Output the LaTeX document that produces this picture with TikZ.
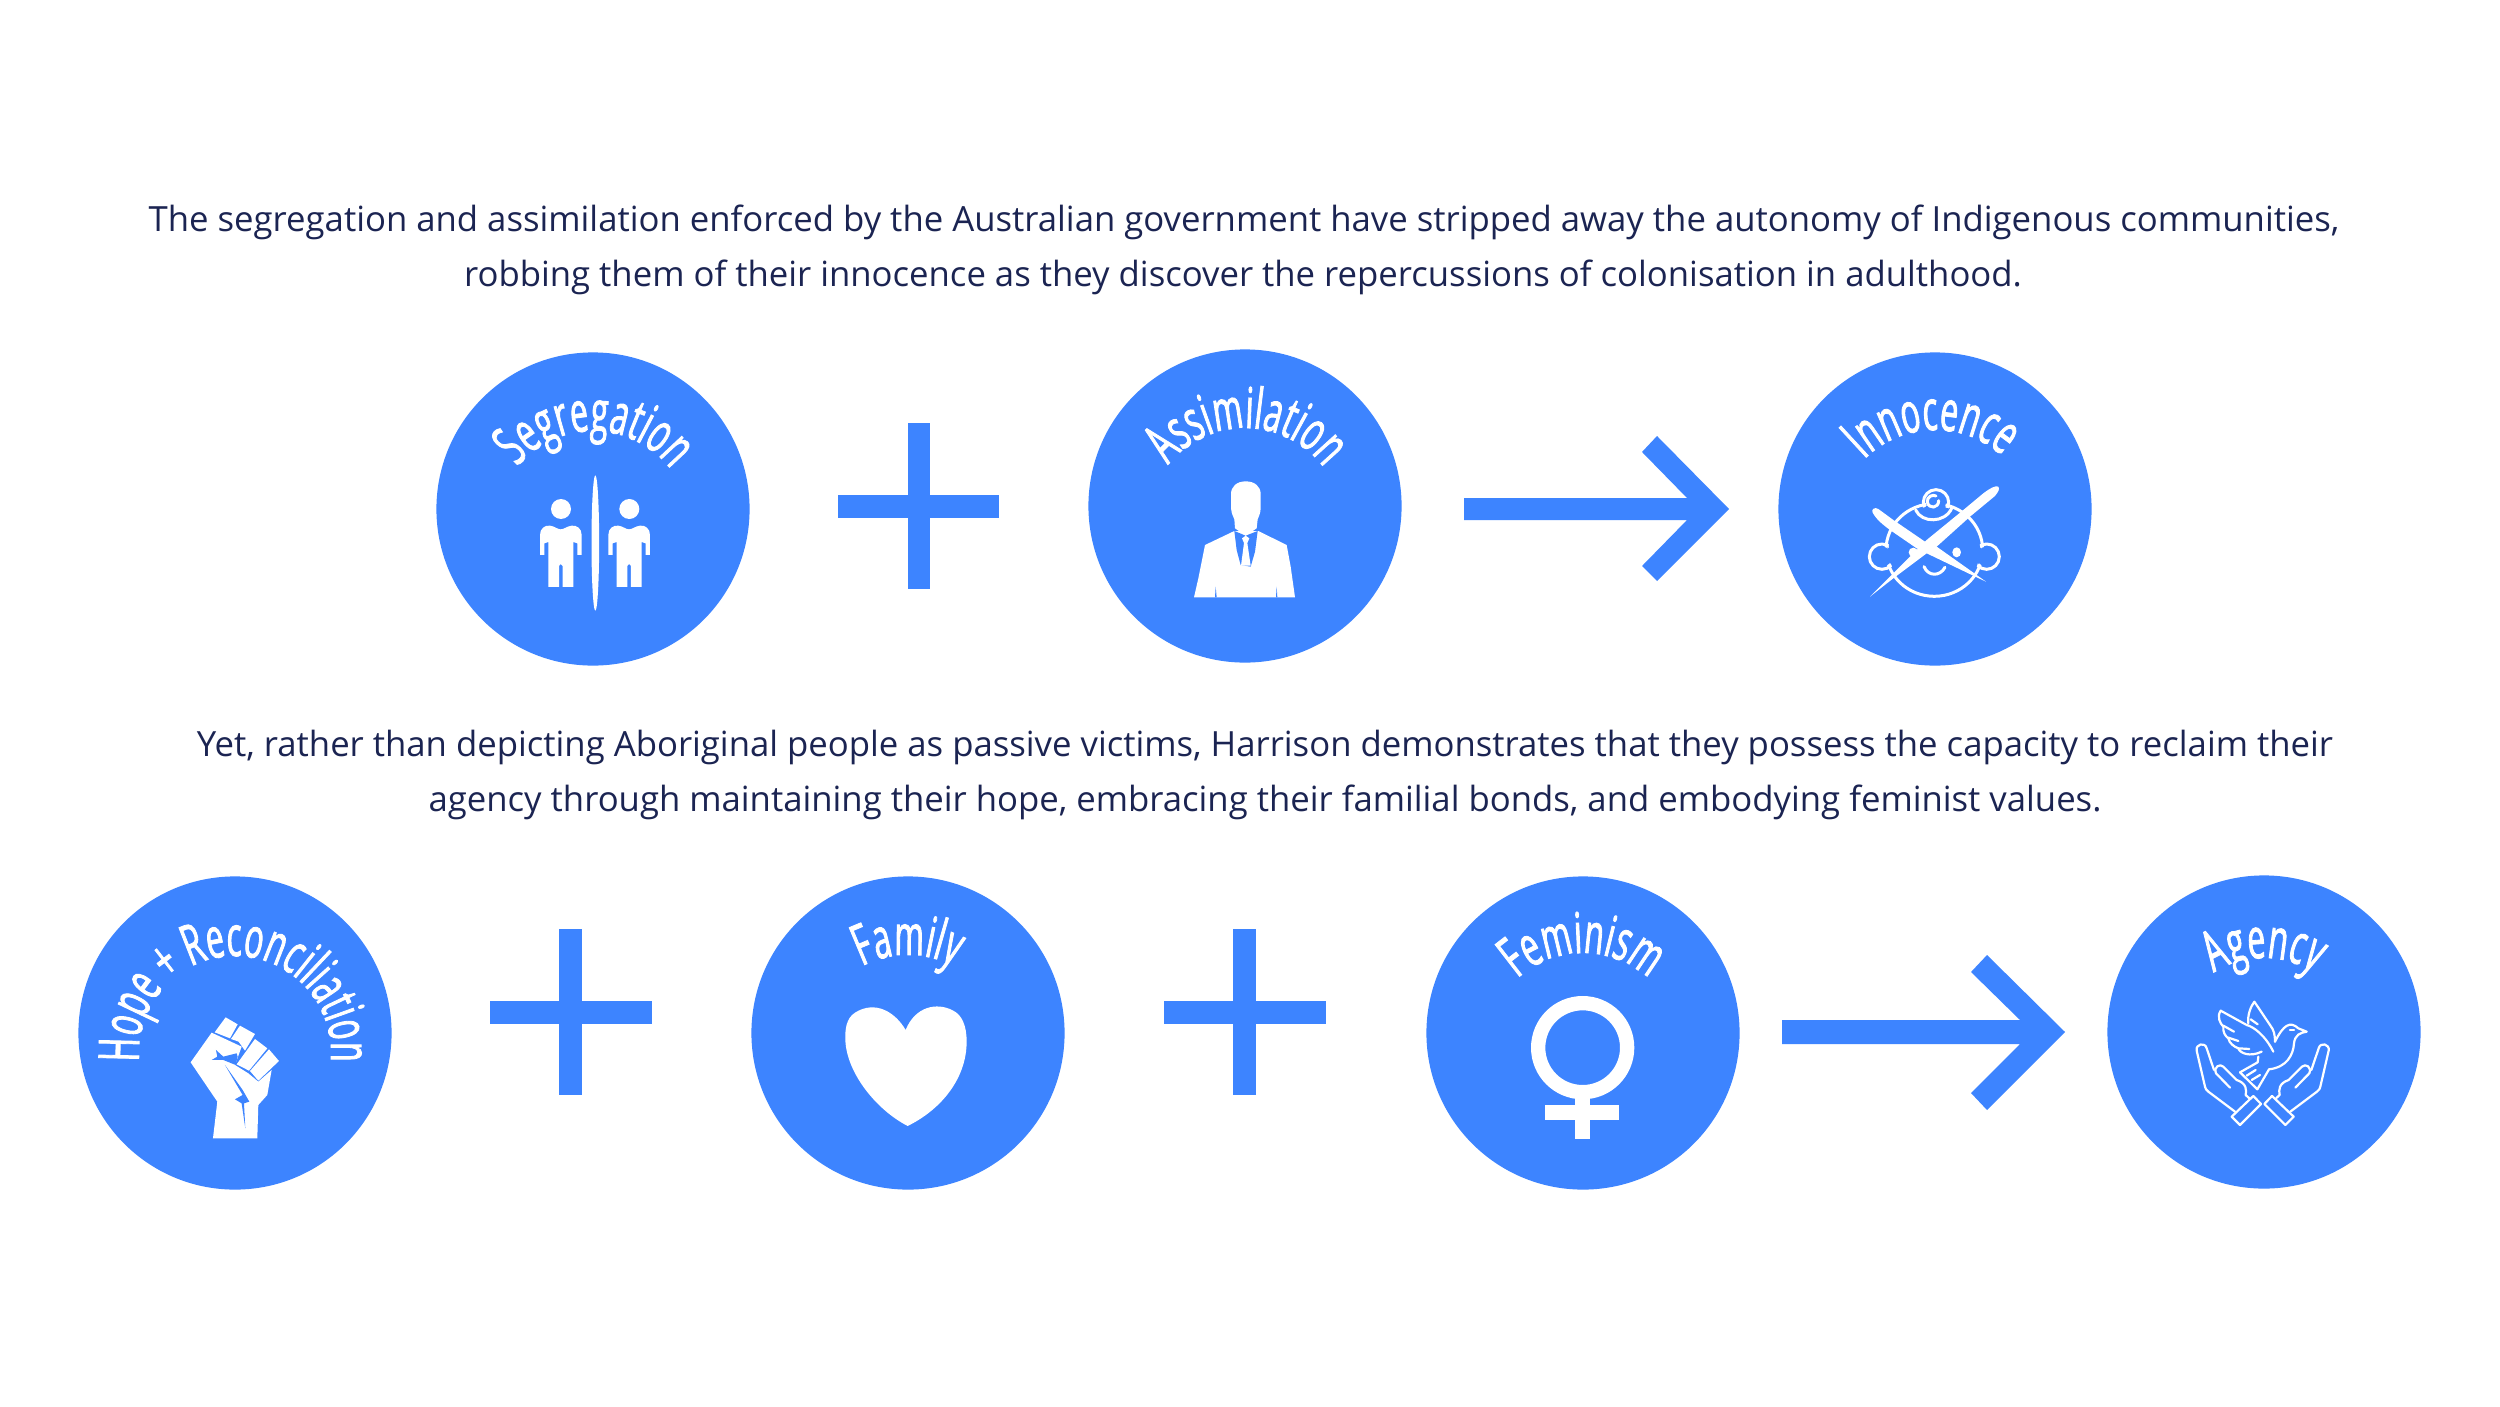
\documentclass[tikz,border=0pt]{standalone}
\usepackage{fontspec}
\usetikzlibrary{decorations.text}
\setmainfont{Open Sans}
\newfontfamily\capfont[FakeStretch=0.565, FakeBold=1.5]{Open Sans}
\newcommand{\labelfont}{\capfont\fontsize{16}{18}\selectfont}
\definecolor{discblue}{RGB}{61,132,255}
\definecolor{inknavy}{RGB}{27,36,82}
\tikzset{
  bodytext/.style={text=inknavy, anchor=base, inner sep=0pt, font=\fontsize{9.87}{12}\selectfont},
  disc/.style={circle, fill=discblue, draw=none, minimum size=3.13cm, inner sep=0pt, outer sep=0pt},
  arclabel/.style={decorate, decoration={text along path, text={|\labelfont|#1}, text color=white, text align=center}},
  icon/.style={white, line width=0.03cm, line join=round, line cap=round},
  thinicon/.style={white, line width=0.022cm, line join=round, line cap=round},
  iconzoom/.style={shift={#1}, scale=0.3333}
}

\begin{document}
\begin{tikzpicture}[x=0.01cm, y=-0.01cm]
    \useasboundingbox (0,0) rectangle (2500,1406);
    \fill[white] (0,0) rectangle (2500,1406);

    % the four lines of text
    \node[bodytext] (lineone) at (1244,231) {The segregation and assimilation enforced by the Australian government have stripped away the autonomy of Indigenous communities,};
    \node[bodytext] (linetwo) at (1243,286) {robbing them of their innocence as they discover the repercussions of colonisation in adulthood.};
    \node[bodytext] (linethree) at (1265,756) {Yet, rather than depicting Aboriginal people as passive victims, Harrison demonstrates that they possess the capacity to reclaim their};
    \node[bodytext] (linefour) at (1265,811) {agency through maintaining their hope, embracing their familial bonds, and embodying feminist values.};

    % the discs
    \node[disc] (segregation) at (593,509) {};
    \node[disc] (assimilation) at (1245,506) {};
    \node[disc] (innocence) at (1935,509) {};
    \node[disc] (hope) at (235,1033) {};
    \node[disc] (family) at (908,1033) {};
    \node[disc] (feminism) at (1583,1033) {};
    \node[disc] (agency) at (2264,1032) {};

    % curved titles
    \path[arclabel=Segregation] (593,529) ++(-199:98) arc[start angle=-199, end angle=21, radius=98];
    \path[arclabel=Assimilation] (1245,526) ++(-199:98) arc[start angle=-199, end angle=21, radius=98];
    \path[arclabel=Innocence] (1935,530) ++(-201:100) arc[start angle=-201, end angle=18, radius=100];
    \path[arclabel={Hope + Reconciliation}] (235,1052) ++(-200:96) arc[start angle=-200, end angle=20, radius=96];
    \path[arclabel=Family] (908,1055) ++(-200:100) arc[start angle=-200, end angle=20, radius=100];
    \path[arclabel=Feminism] (1583,1050) ++(-200:97) arc[start angle=-200, end angle=20, radius=97];
    \path[arclabel=Agency] (2264,1050) ++(-200:92) arc[start angle=-200, end angle=20, radius=92];

    % plus signs
    \fill[discblue] (838,495) rectangle (999,518);
    \fill[discblue] (908,423) rectangle (930,589);
    \fill[discblue] (490,1001) rectangle (652,1024);
    \fill[discblue] (559,929) rectangle (582,1095);
    \fill[discblue] (1164,1001) rectangle (1326,1024);
    \fill[discblue] (1233,929) rectangle (1256,1095);

    % arrows
    \fill[discblue] (1464,498) -- (1687,498) -- (1642,452) -- (1657,436) -- (1729,509) -- (1657,581) -- (1642,566) -- (1687,520) -- (1464,520) -- cycle;
    \fill[discblue] (1782,1020) -- (2020,1020) -- (1971,972) -- (1987,955) -- (2065,1032) -- (1987,1110) -- (1971,1093) -- (2020,1044) -- (1782,1044) -- cycle;

    % two figures and the divider
    \begin{scope}[iconzoom={(520,460)}]
      \fill[white] (226,249) ellipse (11.5 and 203);
      \fill[white] (123,147) circle (30);
      \fill[white] (60,285) -- (60,225) .. controls (60,205) and (75,195) .. (90,197) .. controls (105,199) and (112,208) .. (122,208) .. controls (132,208) and (140,199) .. (155,197) .. controls (170,195) and (185,205) .. (185,225) -- (185,285) -- (172,285) -- (172,250) -- (160,246) -- (160,381) -- (128,381) -- (128,318) -- (122,312) -- (117,318) -- (117,381) -- (85,381) -- (85,246) -- (73,250) -- (73,285) -- cycle;
      \fill[white] (328,147) circle (30);
      \fill[white] (265,285) -- (265,225) .. controls (265,205) and (280,195) .. (295,197) .. controls (310,199) and (317,208) .. (327,208) .. controls (337,208) and (345,199) .. (360,197) .. controls (375,195) and (390,205) .. (390,225) -- (390,285) -- (377,285) -- (377,250) -- (365,246) -- (365,381) -- (333,381) -- (333,318) -- (327,312) -- (322,318) -- (322,381) -- (290,381) -- (290,246) -- (278,250) -- (278,285) -- cycle;
    \end{scope}

    % man in a suit
    \begin{scope}[iconzoom={(1175,470)}]
      \fill[white] (57,382) -- (70,325) -- (90,225) -- (178,183) -- (250,183) -- (335,225) -- (347,290) -- (360,382) -- cycle;
      \fill[discblue] (178,183) -- (212,197) -- (248,183) -- (240,245) -- (227,290) -- (197,285) -- (185,240) -- cycle;
      \fill[white] (212,34) .. controls (185,34) and (168,50) .. (168,72) -- (168,115) .. controls (170,135) and (176,140) .. (178,148) -- (180,175) -- (212,197) -- (245,175) -- (248,148) .. controls (250,140) and (256,135) .. (257,115) -- (257,72) .. controls (257,50) and (240,34) .. (212,34) -- cycle;
      \fill[white] (201,205) -- (212,197) -- (223,205) -- (217,219) -- (227,287) -- (198,287) -- (207,219) -- cycle;
      \fill[discblue] (120,382) -- (122,350) -- (125,382) -- cycle;
      \fill[discblue] (303,382) -- (305,350) -- (307,382) -- cycle;
    \end{scope}

    % baby face crossed out
    \begin{scope}[iconzoom={(1750,340)}]
      \draw[icon] (553,630) ellipse (145 and 139);
      \draw[icon] (396,650) circle (38);
      \draw[icon] (710,650) circle (38);
      \draw[icon] (558,487) circle (38);
      \fill[discblue] (553,630) ellipse (137 and 131);
      \fill[discblue] (396,650) circle (30);
      \fill[discblue] (710,650) circle (30);
      \fill[discblue] (558,487) circle (30);
      \draw[icon] (497,510) .. controls (515,550) and (585,550) .. (605,505);
      \draw[icon] (566,482) .. controls (566,506) and (536,508) .. (532,486) .. controls (530,470) and (548,462) .. (558,468);
      \draw[icon] (522,680) .. controls (535,710) and (570,710) .. (585,682);
      \fill[white] (490,637) circle (14);
      \fill[white] (620,637) ellipse (13 and 15);
      \fill[white] (360,770) -- (480,650) -- (530,600) -- (640,510) -- (700,460) .. controls (720,445) and (738,435) .. (745,440) .. controls (750,448) and (745,455) .. (735,468) -- (660,530) -- (560,620) -- (530,640) -- (430,715) -- cycle;
      \fill[white] (708,725) -- (680,705) -- (560,620) -- (525,605) -- (430,540) -- (385,507) .. controls (375,500) and (362,508) .. (368,518) .. controls (380,540) and (400,555) .. (420,570) -- (500,625) -- (530,640) -- (680,712) -- cycle;
    \end{scope}

    % raised fist
    \begin{scope}[iconzoom={(60,860)}]
      \fill[white] (497,472) -- (533,493) -- (510,535) -- (464,517) -- cycle;
      \fill[white] (540,497) -- (585,522) -- (555,572) -- (536,545) -- (513,537) -- cycle;
      \fill[white] (585,537) -- (622,565) -- (567,632) -- (530,613) -- cycle;
      \fill[white] (627,568) -- (657,603) -- (595,662) -- (570,633) -- cycle;
      \fill[white] (455,518) -- (545,560) -- (525,615) -- (565,640) -- (595,665) -- (635,630) -- (622,705) -- (595,735) -- (592,835) -- (459,835) -- (472,725) -- (392,607) -- cycle;
      \fill[discblue] (468,570) -- (490,590) -- (530,580) -- (533,590) -- (527,615) -- (490,600) -- (455,600) -- (472,590) -- cycle;
      \fill[discblue] (495,615) -- (548,690) -- (568,725) -- (552,730) -- (556,805) -- (545,730) -- (525,718) -- (548,705) -- (538,688) -- cycle;
    \end{scope}

    % heart
    \begin{scope}[iconzoom={(740,860)}]
      \fill[white] (497,510) .. controls (465,455) and (405,420) .. (345,458) .. controls (318,475) and (315,510) .. (316,540) .. controls (320,640) and (410,750) .. (503,798) .. controls (610,745) and (680,650) .. (680,545) .. controls (680,495) and (665,465) .. (640,452) .. controls (590,425) and (525,440) .. (497,510) -- cycle;
    \end{scope}

    % venus sign
    \begin{scope}[iconzoom={(1420,860)}]
      \fill[white, even odd rule] (488,563) circle (155) (488,563) circle (112);
      \fill[white] (466,712) rectangle (510,838);
      \fill[white] (375,736) rectangle (598,779);
    \end{scope}

    % dove between two hands
    \begin{scope}[iconzoom={(2090,860)}]
      \draw[thinicon] (450,637) -- (503,607) -- (505,590);
      \draw[thinicon] (450,637) -- (502,688) -- (537,628) .. controls (590,622) and (610,585) .. (612,550) .. controls (615,525) and (630,518) .. (650,515) -- (625,505) .. controls (600,482) and (580,495) .. (555,545);
      \draw[thinicon] (550,575) .. controls (525,525) and (490,500) .. (470,495) -- (392,452) .. controls (380,470) and (390,490) .. (400,500) .. controls (398,515) and (405,528) .. (415,535) .. controls (418,550) and (432,560) .. (445,565) .. controls (450,580) and (480,592) .. (515,575);
      \draw[thinicon] (475,490) .. controls (472,465) and (482,440) .. (493,425) -- (540,495) .. controls (552,510) and (555,525) .. (555,545);
      \draw[thinicon] (482,478) -- (503,493);
      \draw[thinicon] (400,497) -- (432,515);
      \draw[thinicon] (415,533) -- (445,543);
      \draw[thinicon] (445,565) -- (478,567);
      \draw[thinicon] (470,647) -- (497,630);
      \draw[thinicon] (485,660) -- (510,645);
      \draw[thinicon] (600,511) -- (612,511);
      \draw[thinicon] (435,755) -- (355,695) .. controls (348,690) and (346,685) .. (345,680) -- (320,572) .. controls (316,552) and (345,545) .. (350,565) -- (372,630);
      \draw[thinicon] (420,683) -- (378,640) .. controls (370,620) and (390,610) .. (400,620) -- (440,660) .. controls (470,670) and (470,690) .. (467,705) -- (478,715);
      \draw[thinicon] (425,770) -- (490,708) -- (513,732) -- (450,795) -- cycle;
    \end{scope}
    \begin{scope}[shift={(2435.3,860)}, xscale=-0.3333, yscale=0.3333]
      \draw[thinicon] (435,755) -- (355,695) .. controls (348,690) and (346,685) .. (345,680) -- (320,572) .. controls (316,552) and (345,545) .. (350,565) -- (372,630);
      \draw[thinicon] (420,683) -- (378,640) .. controls (370,620) and (390,610) .. (400,620) -- (440,660) .. controls (470,670) and (470,690) .. (467,705) -- (478,715);
      \draw[thinicon] (425,770) -- (490,708) -- (513,732) -- (450,795) -- cycle;
    \end{scope}
\end{tikzpicture}
\end{document}
